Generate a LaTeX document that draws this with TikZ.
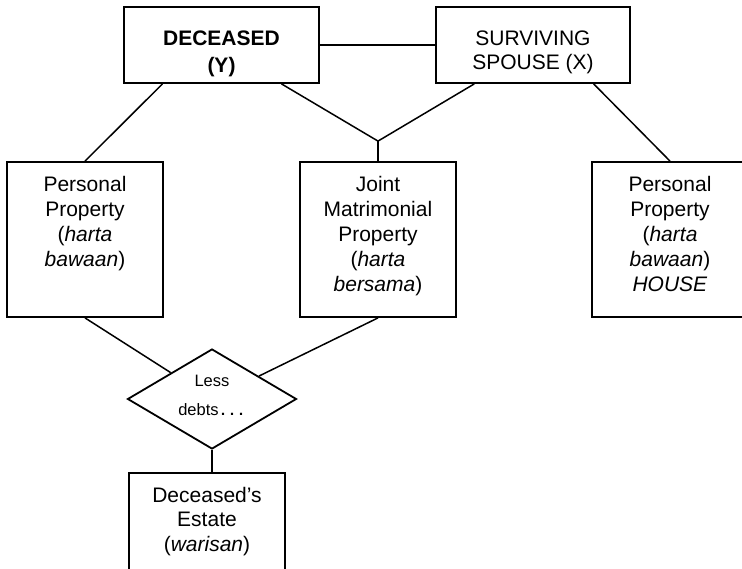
\documentclass[tikz,border=0pt]{standalone}
\usepackage{fontspec}
\setmainfont{Liberation Sans}
\newfontfamily\dotsfont{Liberation Mono}
\usetikzlibrary{shapes.geometric,calc}

\tikzset{
  box/.style={draw, line width=1.8pt, rectangle, inner sep=0pt,
              minimum width=156pt, minimum height=155pt},
  topbox/.style={draw, line width=1.8pt, rectangle, inner sep=0pt,
              minimum height=76pt},
  link/.style={line width=1.5pt},
  label/.style={anchor=north, align=center, inner sep=0pt,
              font=\fontsize{21}{25}\selectfont},
}

\begin{document}
\begin{tikzpicture}[x=1pt, y=-1pt]
  \clip (0,0) rectangle (742,568);

  % parties
  \node[topbox, minimum width=195pt] (dec) at (221.5,45) {};
  \node[label, font=\bfseries\fontsize{21}{27}\selectfont] (dectxt) at (221.5,31) {DECEASED\\(Y)};
  \node[topbox, minimum width=194pt] (sur) at (533,45) {};
  \node[label, font=\fontsize{21}{23.5}\selectfont] (surtxt) at (533,30.7) {SURVIVING\\SPOUSE (X)};

  % property
  \node[box] (ppl) at (85,239.5) {};
  \node[label] (ppltxt) at (85,176) {Personal\\Property\\(\textit{harta}\\\textit{bawaan})};
  \node[box] (jmp) at (378,239.5) {};
  \node[label] (jmptxt) at (378,176) {Joint\\Matrimonial\\Property\\(\textit{harta}\\\textit{bersama})};
  \node[box] (ppr) at (670,239.5) {};
  \node[label] (pprtxt) at (670,176) {Personal\\Property\\(\textit{harta}\\\textit{bawaan})\\\textit{HOUSE}};

  % deduction and estate
  \node[draw, diamond, line width=1.8pt, inner sep=0pt,
        minimum width=169pt, minimum height=100pt] (dia) at (212,399) {};
  \node[label, font=\fontsize{16.5}{29}\selectfont] (diatxt) at (212,375.2)
       {Less\\debts{\dotsfont\bfseries\fontsize{15}{29}\selectfont...}};
  \node[box] (est) at (207,550.5) {};
  \node[label, font=\fontsize{21}{24.5}\selectfont] (esttxt) at (207,487) {Deceased’s\\Estate\\(\textit{warisan})};

  % connectors
  \coordinate (jn) at ($(jmp.north)+(0,-20)$);
  \draw[link] (dec.east) -- (sur.west);
  \draw[link] ($(dec.south west)!0.2!(dec.south east)$) -- (ppl.north);
  \draw[link] ($(dec.south west)!0.805!(dec.south east)$) -- (jn);
  \draw[link] ($(sur.south west)!0.2!(sur.south east)$) -- (jn);
  \draw[link] (jn) -- (jmp.north);
  \draw[link] ($(sur.south west)!0.81!(sur.south east)$) -- (ppr.north);
  \draw[link] (ppl.south) -- (dia);
  \draw[link] (jmp.south) -- (dia);
  \draw[link] (dia.south) -- (dia.south |- est.north);
\end{tikzpicture}
\end{document}
